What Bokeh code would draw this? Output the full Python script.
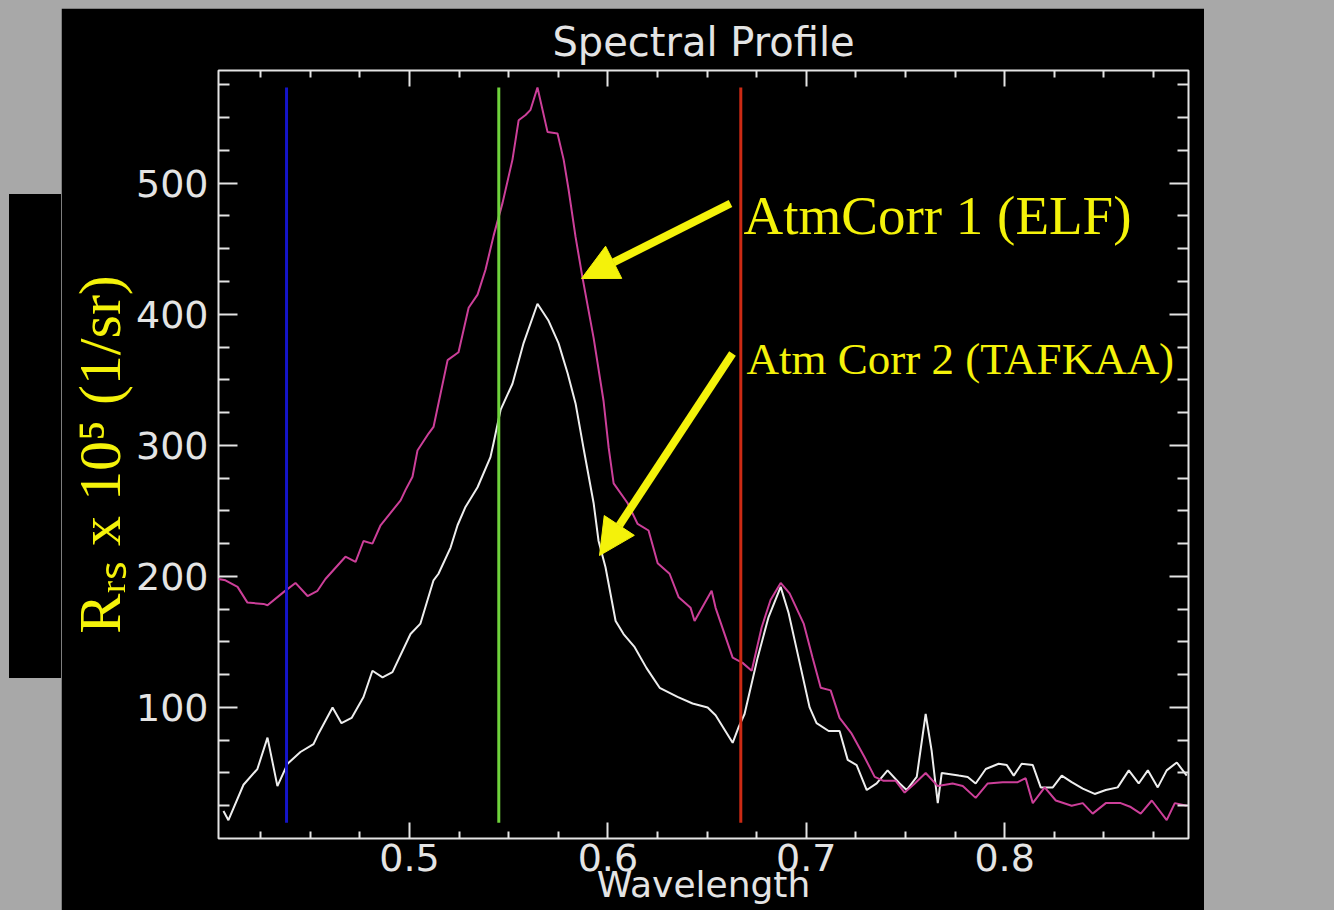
from bokeh.plotting import figure
from bokeh.models import (Range1d, LinearAxis, FixedTicker, Label, Arrow, NormalHead, Spacer)
from bokeh.layouts import row, column
from bokeh.embed import file_html
from bokeh.resources import INLINE

# ---------------- data ----------------
# AtmCorr 1 (ELF) spectrum: wavelength (um) and Rrs x 1e5 (1/sr)
elf_wl = [0.4037, 0.4072, 0.4133, 0.4183, 0.4264, 0.4284, 0.4365, 0.4425, 0.4486, 0.4536,
          0.4576, 0.4677, 0.4728, 0.4768, 0.4813, 0.4854, 0.4955, 0.4980, 0.5015, 0.5040,
          0.5096, 0.5121, 0.5192, 0.5247, 0.5298, 0.5343, 0.5383, 0.5424, 0.5469, 0.5519,
          0.5550, 0.5585, 0.5610, 0.5645, 0.5696, 0.5746, 0.5777, 0.5802, 0.5837, 0.5872,
          0.5928, 0.5978, 0.6004, 0.6029, 0.6099, 0.6150, 0.6205, 0.6251, 0.6311, 0.6357,
          0.6417, 0.6437, 0.6523, 0.6543, 0.6629, 0.6679, 0.6725, 0.6775, 0.6820, 0.6871,
          0.6916, 0.6987, 0.7032, 0.7073, 0.7123, 0.7168, 0.7229, 0.7294, 0.7345, 0.7390,
          0.7451, 0.7496, 0.7547, 0.7602, 0.7663, 0.7738, 0.7789, 0.7854, 0.7915, 0.7990,
          0.8066, 0.8106, 0.8142, 0.8202, 0.8258, 0.8338, 0.8394, 0.8444, 0.8510, 0.8585,
          0.8636, 0.8686, 0.8742, 0.8817, 0.8858, 0.8918]
elf_val = [198, 197, 192, 180, 179, 178, 188, 195, 185, 189,
           198, 215, 211, 227, 225, 239, 258, 266, 276, 296,
           309, 314, 365, 371, 405, 415, 434, 460, 485, 518,
           548, 552, 556, 573, 539, 538, 518, 495, 459, 428,
           382, 334, 298, 271, 256, 240, 235, 210, 202, 184,
           176, 166, 189, 176, 138, 134, 128, 161, 182, 195,
           187, 164, 138, 115, 113, 92, 80, 62, 47, 44,
           44, 35, 42, 50, 40, 42, 40, 31, 42, 43,
           43, 46, 27, 39, 29, 25, 27, 19, 27, 27,
           24, 19, 29, 14, 27, 25]

# Atm Corr 2 (TAFKAA) spectrum
taf_wl = [0.4062, 0.4087, 0.4163, 0.4233, 0.4284, 0.4334, 0.4385, 0.4450, 0.4516, 0.4541,
          0.4612, 0.4657, 0.4708, 0.4768, 0.4813, 0.4864, 0.4914, 0.5005, 0.5055, 0.5121,
          0.5146, 0.5207, 0.5242, 0.5282, 0.5343, 0.5408, 0.5424, 0.5459, 0.5519, 0.5575,
          0.5645, 0.5701, 0.5751, 0.5797, 0.5837, 0.5877, 0.5928, 0.5953, 0.5988, 0.6039,
          0.6079, 0.6135, 0.6195, 0.6261, 0.6351, 0.6427, 0.6503, 0.6543, 0.6629, 0.6659,
          0.6689, 0.6755, 0.6810, 0.6871, 0.6911, 0.6967, 0.7017, 0.7052, 0.7113, 0.7168,
          0.7209, 0.7254, 0.7305, 0.7355, 0.7410, 0.7471, 0.7506, 0.7557, 0.7602, 0.7632,
          0.7663, 0.7683, 0.7769, 0.7814, 0.7854, 0.7905, 0.7970, 0.8011, 0.8046, 0.8086,
          0.8142, 0.8182, 0.8243, 0.8288, 0.8338, 0.8394, 0.8454, 0.8510, 0.8570, 0.8626,
          0.8676, 0.8722, 0.8772, 0.8817, 0.8868, 0.8918]
taf_val = [21, 14, 41, 53, 77, 40, 57, 66, 72, 80,
           100, 88, 92, 108, 128, 123, 127, 156, 164, 197,
           202, 222, 239, 253, 268, 291, 302, 327, 347, 378,
           408, 395, 378, 355, 332, 298, 256, 227, 207, 166,
           156, 146, 130, 115, 108, 103, 100, 94, 73, 85,
           95, 138, 169, 192, 172, 134, 100, 88, 82, 82,
           60, 56, 37, 42, 52, 42, 37, 47, 95, 67,
           27, 50, 48, 47, 42, 53, 57, 56, 48, 57,
           56, 39, 39, 48, 43, 38, 34, 37, 39, 52,
           42, 52, 39, 52, 58, 48]

# RGB band markers
band_wl = [0.438, 0.545, 0.667]
band_colors = ["#1414c8", "#6fd23c", "#cc2a14"]
band_ymin = [12, 12, 12]
band_ymax = [573, 573, 573]

# axis ticks
x_major = [0.5, 0.6, 0.7, 0.8]
x_minor = [0.425, 0.45, 0.475, 0.525, 0.55, 0.575, 0.625, 0.65, 0.675,
           0.725, 0.75, 0.775, 0.825, 0.85, 0.875]
y_major = [100, 200, 300, 400, 500]
y_minor = [25, 50, 75, 125, 150, 175, 225, 250, 275, 325, 350, 375,
           425, 450, 475, 525, 550, 575]

TITLE = "Spectral Profile"
XLABEL = "Wavelength"
YLABEL = "R\u1d63\u209b x 10\u2075 (1/sr)"
NOTE1 = "AtmCorr 1 (ELF)"
NOTE2 = "Atm Corr 2 (TAFKAA)"

# ---------------- layout / styles ----------------
WIN_W, WIN_H = 1334, 910
PANEL_L, PANEL_T, PANEL_R = 61, 8, 1204       # black panel (window px)
FL, FR, FT, FB = 218, 1188, 70, 838           # plot frame (window px)
XR = (0.4037, 0.8927)
YR = (0.0, 586.0)
GRAY = "#a8a8a8"
FG = "#e4e4e4"
MAGENTA = "#cc3f99"
WHITE = "#eeeeee"
YELLOW = "#f4f20a"

FIG_W = PANEL_R - PANEL_L
FIG_H = WIN_H - PANEL_T


def dx(px):
    return XR[0] + (px - FL) * (XR[1] - XR[0]) / (FR - FL)


def dy(py):
    return YR[0] + (FB - py) * (YR[1] - YR[0]) / (FB - FT)


p = figure(width=FIG_W, height=FIG_H, output_backend="svg", toolbar_location=None,
           x_range=Range1d(*XR), y_range=Range1d(*YR),
           min_border_left=FL - PANEL_L, min_border_right=PANEL_R - FR,
           min_border_top=FT - PANEL_T, min_border_bottom=WIN_H - FB,
           background_fill_color="black", border_fill_color="black",
           outline_line_color=FG, outline_line_width=2)
p.grid.visible = False

p.title.text = TITLE
p.title.align = "center"
p.title.text_font = "DejaVu Sans"
p.title.text_font_size = "40px"
p.title.text_font_style = "normal"
p.title.text_color = FG
p.title.standoff = 12

bot_ax = p.below[0]
left_ax = p.left[0]
top_ax = LinearAxis()
right_ax = LinearAxis()
p.add_layout(top_ax, "above")
p.add_layout(right_ax, "right")

for ax in (bot_ax, top_ax):
    ax.ticker = FixedTicker(ticks=x_major, minor_ticks=x_minor)
    ax.major_tick_in = 16
    ax.minor_tick_in = 7
for ax in (left_ax, right_ax):
    ax.ticker = FixedTicker(ticks=y_major, minor_ticks=y_minor)
    ax.major_tick_in = 19
    ax.minor_tick_in = 11
for ax in (bot_ax, top_ax, left_ax, right_ax):
    ax.axis_line_color = None
    ax.major_tick_out = 0
    ax.minor_tick_out = 0
    ax.major_tick_line_color = FG
    ax.minor_tick_line_color = FG
    ax.major_tick_line_width = 2
    ax.minor_tick_line_width = 2
    ax.major_label_text_font = "DejaVu Sans"
    ax.major_label_text_font_size = "38px"
    ax.major_label_text_color = FG

for ax in (top_ax, right_ax):
    ax.major_label_text_font_size = "1px"
    ax.major_label_text_color = None
    ax.major_label_standoff = 0

bot_ax.major_label_standoff = 5
bot_ax.axis_label = XLABEL
bot_ax.axis_label_text_font = "DejaVu Sans"
bot_ax.axis_label_text_font_size = "36px"
bot_ax.axis_label_text_font_style = "normal"
bot_ax.axis_label_text_color = FG
bot_ax.axis_label_standoff = -10

left_ax.major_label_standoff = 10
left_ax.axis_label = YLABEL
left_ax.axis_label_text_font = "Liberation Serif"
left_ax.axis_label_text_font_size = "60px"
left_ax.axis_label_text_font_style = "normal"
left_ax.axis_label_text_color = YELLOW
left_ax.axis_label_standoff = 0

# spectra
p.line(taf_wl, taf_val, line_color=WHITE, line_width=2)
p.line(elf_wl, elf_val, line_color=MAGENTA, line_width=2)
p.segment(x0=band_wl, y0=band_ymin, x1=band_wl, y1=band_ymax,
          line_color=band_colors, line_width=3)

# annotations
p.add_layout(Label(x=dx(743), y=dy(215), text=NOTE1, text_align="left",
                   text_baseline="alphabetic", text_font="Liberation Serif",
                   text_font_size="55px", text_color=YELLOW))
p.add_layout(Label(x=dx(746), y=dy(358), text=NOTE2, text_align="left",
                   text_baseline="alphabetic", text_font="Liberation Serif",
                   text_font_size="45px", text_color=YELLOW))
for (sx, sy, ex, ey) in [(730, 203, 581, 278), (732, 353, 599, 555)]:
    p.add_layout(Arrow(end=NormalHead(size=36, fill_color=YELLOW, line_color=YELLOW),
                       x_start=dx(sx), y_start=dy(sy), x_end=dx(ex), y_end=dy(ey),
                       line_color=YELLOW, line_width=8))

# page: gray background with black panel and the black box behind the y label
def block(w, h, color):
    return Spacer(width=w, height=h, styles={"background-color": color})

left_col = column(block(PANEL_L - 9, 194 - PANEL_T, GRAY),
                  block(PANEL_L - 9, 678 - 194, "black"),
                  block(PANEL_L - 9, WIN_H - 678, GRAY),
                  styles={"background-color": GRAY})
body = row(block(9, FIG_H, GRAY), left_col, p, block(WIN_W - PANEL_R, FIG_H, GRAY),
           styles={"background-color": GRAY})
root = column(block(WIN_W, PANEL_T, GRAY), body, styles={"background-color": GRAY})

open("out.html", "w").write(file_html(root, INLINE))
